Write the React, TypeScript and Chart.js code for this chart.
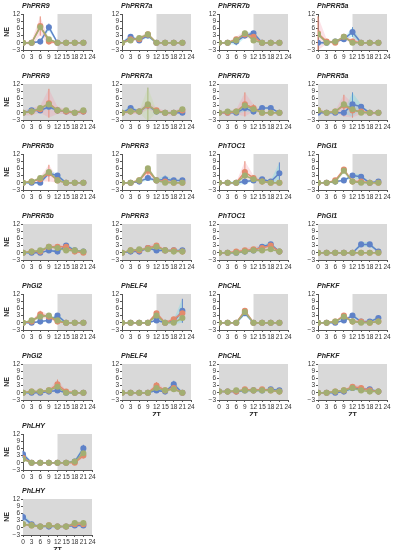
import React, { useEffect, useRef } from 'react';
import { Chart, registerables } from 'chart.js';
Chart.register(...registerables);

const HOURS = [0, 3, 6, 9, 12, 15, 18, 21];
const X_TICKS = [0, 3, 6, 9, 12, 15, 18, 21, 24];
const Y_TICKS = [-3, 0, 3, 6, 9, 12];

const TITLES = [
  'PhPRR9', 'PhPRR7a', 'PhPRR7b', 'PhPRR5a',
  'PhPRR9', 'PhPRR7a', 'PhPRR7b', 'PhPRR5a',
  'PhPRR5b', 'PhPRR3', 'PhTOC1', 'PhGI1',
  'PhPRR5b', 'PhPRR3', 'PhTOC1', 'PhGI1',
  'PhGI2', 'PhELF4', 'PhCHL', 'PhFKF',
  'PhGI2', 'PhELF4', 'PhCHL', 'PhFKF',
  'PhLHY', 'PhLHY',
];
// shading starts at ZT 12 (light/dark) or ZT 0 (constant)
const SHADE_FROM = [
  12, 12, 12, 12, 0, 0, 0, 0,
  12, 12, 12, 12, 0, 0, 0, 0,
  12, 12, 12, 12, 0, 0, 0, 0,
  12, 0,
];
const ZT_LABEL = [
  false, false, false, false, false, false, false, false,
  false, false, false, false, false, false, false, false,
  false, false, false, false, false, true, true, true,
  false, true,
];

const BLUE = [
  [0, 0, 0.5, 6.5, 0, 0, 0, 0],
  [0, 2.5, 1, 3, 0, 0, 0, 0],
  [0, 0, 0.5, 3, 4, 0, 0, 0],
  [0, 0, 0.5, 1.5, 4.5, 0, 0, 0],
  [0, 1, 1, 2.5, 1, 0.5, 0, 0.5],
  [0, 2, 0.5, 3, 0.5, 0, 0, 0],
  [0, 0, 0, 2, 0.5, 2, 2, 0],
  [0, 0, 0, 0, 3.5, 2.5, 0, 0],
  [0, 0, 0, 4, 3, 0, 0, 0],
  [0, 0, 0.5, 2, 1, 1.5, 1, 1],
  [0, 0, 0, 0.5, 1, 1.5, 0.5, 4],
  [0, 0, 0.5, 1, 3, 2.5, 0, 0.5],
  [0, 0, 0, 1, 0.5, 3, 1, 0.5],
  [0, 0.5, 0.5, 2, 1, 1, 1, 1],
  [0, 0, 0, 0.5, 1, 2.5, 3.5, 0.5],
  [0, 0, 0, 0, 0, 3.5, 3.5, 0.5],
  [0, 0, 0.5, 1, 3, 0, 0, 0],
  [0, 0, 0, 0, 1, 0, 0.5, 5],
  [0, 0, 0, 4, 0, 0, 0, 0],
  [0, 0, 0, 1, 3, 0.5, 0.5, 2],
  [0, 0, 0, 0.5, 1, 0, 0, 0],
  [0, 0, 0, 0, 1, 0.5, 3.5, 0],
  [0.5, 0.5, 0.5, 1, 1, 1, 1.5, 1],
  [0, 0, 0, 0.5, 2, 1.5, 1.5, 0.5],
  [3.5, 0, 0, 0, 0, 0, 0.5, 6],
  [4.5, 1.5, 0.5, 0.5, 0.5, 0.5, 1, 1],
];
const ORANGE = [
  [0, 0, 7, 0.5, 0, 0, 0, 0],
  [0, 1.5, 1.5, 3.5, 0, 0, 0, 0],
  [0, 0, 1.5, 3.5, 2.5, 0, 0, 0],
  [4, 0.5, 0, 2.5, 0.5, 0, 0, 0],
  [0, 0.5, 1.5, 4, 1, 0.5, 0, 0.5],
  [0, 0.5, 0.5, 3, 1, 0, 0, 1],
  [0, 0, 0.5, 3.5, 2, 0, 0, 0],
  [1, 0, 0.5, 3, 1, 0.5, 0, 0],
  [0, 0.5, 1.5, 4, 1, 0, 0, 0],
  [0, 0, 1, 5, 1, 0.5, 0, 0],
  [0, 0, 0, 4.5, 2, 0.5, 0, 0],
  [0, 0, 1, 5.5, 0.5, 0.5, 0, 0],
  [0, 0.5, 0.5, 2.5, 2.5, 2.5, 0.5, 0],
  [0, 1, 1, 2, 3, 1, 1, 0.5],
  [0, 0, 0.5, 1, 1.5, 2, 3, 0.5],
  [0, 0, 0, 0, 0, 0, 0, 0],
  [0, 0.5, 3.5, 2.5, 0.5, 0, 0, 0],
  [0, 0, 0, 0, 4, 0, 1.5, 4],
  [0, 0, 0, 5, 0, 0, 0, 0],
  [0, 0, 0.5, 3, 0.5, 0.5, 0, 0.5],
  [0, 0.5, 0.5, 1, 3.5, 0.5, 0, 0],
  [0, 0, 0, 0, 3, 1, 2, 0],
  [0.5, 0.5, 0.5, 1.5, 1, 1.5, 1, 0.5],
  [0, 0, 0.5, 1, 2.5, 2, 1, 0.5],
  [2, 0, 0, 0, 0, 0, 0, 3],
  [1.5, 1, 0.5, 1, 0.5, 0.5, 1.5, 1.5],
];
const GREEN = [
  [0, 0, 6.5, 1.5, 0, 0, 0, 0],
  [0, 1, 2, 3.5, 0, 0, 0, 0],
  [0, 0, 1, 4, 1, 0, 0, 0],
  [3.5, 0, 0.5, 2.5, 0, 0, 0, 0],
  [0, 0.5, 2, 3.5, 1, 1, 0, 1],
  [0, 0.5, 0.5, 3.5, 0.5, 0, 0, 1.5],
  [0, 0.5, 0.5, 3, 1.5, 0, 0, 0],
  [1, 0, 0.5, 3.5, 1.5, 0, 0, 0],
  [0, 0.5, 2, 4.5, 1, 0, 0, 0],
  [0, 0, 1, 6, 1, 0, 0, 0],
  [0, 0, 0, 3, 1.5, 0.5, 0, 0],
  [0, 0, 0.5, 5, 0.5, 0, 0, 0],
  [0, 0.5, 1, 2.5, 2, 1, 1, 0.5],
  [0, 1, 1.5, 1.5, 2.5, 1, 0.5, 0.5],
  [0, 0, 0, 0.5, 1, 1, 1.5, 0.5],
  [0, 0, 0, 0, 0, 0, 0, 0],
  [0, 1, 2.5, 3, 1, 0, 0, 0],
  [0, 0, 0, 0, 3, 0, 0, 2],
  [0, 0, 0, 4.5, 0, 0, 0, 0],
  [0, 0, 0.5, 2.5, 0.5, 0, 0, 0.5],
  [0, 0.5, 0.5, 1, 2.5, 0, 0, 0],
  [0, 0, 0, 0, 2, 1, 1.5, 0],
  [0.5, 0.5, 1, 1, 1, 1, 1, 0.5],
  [0, 0, 0.5, 1, 2, 1, 0.5, 0.5],
  [1.5, 0, 0, 0, 0, 0, 0.5, 4],
  [1.5, 1, 0.5, 1, 0.5, 0.5, 2, 2],
];
// standard deviations (error bars / bands)
const ERR_BLUE = [
  [0.3, 0.3, 0.5, 1.5, 0.3, 0, 0, 0],
  [0.5, 1, 0.5, 1, 0.3, 0, 0, 0],
  [0.3, 0.3, 1.5, 1, 1, 0.3, 0, 0],
  [1, 0.3, 0.3, 0.5, 2, 0.3, 0, 0],
  [0.5, 1, 0.5, 1, 0.5, 0.5, 0.5, 0.5],
  [0.5, 1, 0.5, 1, 0.5, 0.5, 0.5, 0.5],
  [0.3, 0.3, 0.5, 1.5, 0.5, 0.5, 0.5, 0.3],
  [0.3, 0.3, 0.3, 0.5, 5, 1, 0.3, 0.3],
  [0.3, 0.3, 0.5, 1, 1, 0.3, 0.3, 0.3],
  [0.3, 0.3, 0.5, 1, 0.5, 1.5, 0.5, 0.5],
  [0.3, 0.3, 1, 1, 0.5, 0.5, 0.5, 4.5],
  [0.3, 0.3, 0.5, 0.5, 1, 1, 0.3, 0.3],
  [0.3, 0.3, 0.3, 0.5, 0.5, 1, 0.5, 0.3],
  [0.3, 0.3, 0.3, 0.5, 0.5, 0.5, 0.5, 0.5],
  [0.3, 0.3, 0.3, 0.5, 0.5, 1, 1, 0.5],
  [0.3, 0.3, 0.3, 0.3, 0.3, 1, 1, 0.3],
  [0.3, 0.3, 0.5, 0.5, 1, 0.3, 0.3, 0.3],
  [0.3, 0.3, 0.3, 0.3, 0.5, 0.3, 1, 5],
  [0.3, 0.3, 0.3, 1, 0.3, 0.3, 0.3, 0.3],
  [0.3, 0.3, 0.3, 0.5, 1, 0.3, 0.3, 1],
  [0.3, 0.3, 0.3, 0.3, 0.5, 0.3, 0.3, 0.3],
  [0.3, 0.3, 0.3, 0.3, 0.5, 0.3, 1.5, 0.3],
  [0.5, 0.5, 0.5, 0.5, 0.5, 0.5, 0.5, 0.5],
  [0.3, 0.3, 0.3, 0.3, 1, 0.5, 0.5, 0.3],
  [1.5, 0.3, 0.3, 0.3, 0.3, 0.3, 0.5, 1.5],
  [1.5, 0.5, 0.3, 0.3, 0.3, 0.3, 0.5, 0.5],
];
const ERR_ORANGE = [
  [0.3, 1, 4, 1, 0.3, 0, 0, 0],
  [0.5, 0.5, 1, 1, 0.3, 0, 0, 0],
  [0.3, 0.3, 1, 1.5, 1, 0.3, 0, 0],
  [7, 1, 0.5, 1, 1, 0.3, 0, 0],
  [1, 1.5, 1.5, 6, 1.5, 1, 1, 1],
  [0.5, 1, 1, 1.5, 1, 1, 1, 1],
  [0.3, 0.5, 1, 5, 1.5, 0.5, 0.3, 0.3],
  [1, 0.5, 0.5, 4.5, 3, 1, 1, 0.5],
  [0.3, 0.5, 1, 3.5, 1, 0.3, 0.3, 0.3],
  [0.3, 0.3, 1, 2, 0.5, 0.3, 0.3, 0.3],
  [0.3, 0.3, 0.3, 4.5, 1, 0.5, 0.3, 0.3],
  [0.3, 0.3, 0.5, 1, 0.5, 0.5, 0.3, 0.3],
  [0.3, 0.5, 0.5, 1, 1, 1, 0.5, 0.3],
  [0.3, 0.5, 0.5, 1, 1, 0.5, 0.5, 0.3],
  [0.3, 0.3, 0.5, 1, 1, 1, 1, 0.3],
  [0.3, 0.3, 0.3, 0.3, 0.3, 0.3, 0.3, 0.3],
  [0.3, 0.5, 1.5, 1, 0.5, 0.3, 0.3, 0.3],
  [0.3, 0.3, 0.3, 0.3, 1, 0.3, 1, 1],
  [0.3, 0.3, 0.3, 1, 0.3, 0.3, 0.3, 0.3],
  [0.3, 0.3, 0.3, 1, 0.5, 0.3, 0.3, 0.5],
  [0.3, 0.5, 0.5, 0.5, 2, 0.5, 0.3, 0.3],
  [0.3, 0.3, 0.3, 0.3, 1.5, 0.5, 1, 0.3],
  [0.5, 0.5, 0.5, 0.5, 0.5, 0.5, 0.5, 0.5],
  [0.3, 0.3, 0.3, 0.5, 1, 1, 0.5, 0.3],
  [1, 0.3, 0.3, 0.3, 0.3, 0.3, 0.3, 1],
  [0.5, 0.5, 0.3, 0.3, 0.3, 0.3, 1, 1],
];
const ERR_GREEN = [
  [0.3, 0.3, 1, 0.5, 0.3, 0, 0, 0],
  [0.3, 0.5, 0.5, 0.5, 0.3, 0, 0, 0],
  [0.3, 0.3, 0.5, 0.5, 0.5, 0.3, 0, 0],
  [1, 0.3, 0.3, 0.5, 0.3, 0.3, 0, 0],
  [0.3, 0.5, 0.5, 1, 0.5, 0.5, 0.3, 0.5],
  [0.3, 0.5, 0.5, 7, 0.5, 0.5, 0.3, 0.5],
  [0.3, 0.3, 0.5, 1, 0.5, 0.3, 0.3, 0.3],
  [0.3, 0.3, 0.3, 1, 0.5, 0.3, 0.3, 0.3],
  [0.3, 0.3, 0.5, 1, 0.5, 0.3, 0.3, 0.3],
  [0.3, 0.3, 0.5, 1, 0.5, 0.3, 0.3, 0.3],
  [0.3, 0.3, 0.3, 1, 0.5, 0.3, 0.3, 0.3],
  [0.3, 0.3, 0.3, 1, 0.3, 0.3, 0.3, 0.3],
  [0.3, 0.3, 0.5, 0.5, 0.5, 0.5, 0.5, 0.3],
  [0.3, 0.3, 0.5, 0.5, 0.5, 0.5, 0.3, 0.3],
  [0.3, 0.3, 0.3, 0.3, 0.5, 0.5, 0.5, 0.3],
  [0.3, 0.3, 0.3, 0.3, 0.3, 0.3, 0.3, 0.3],
  [0.3, 0.5, 1, 0.5, 0.5, 0.3, 0.3, 0.3],
  [0.3, 0.3, 0.3, 0.3, 0.5, 0.3, 0.3, 1],
  [0.3, 0.3, 0.3, 0.5, 0.3, 0.3, 0.3, 0.3],
  [0.3, 0.3, 0.3, 0.5, 0.3, 0.3, 0.3, 0.3],
  [0.3, 0.3, 0.3, 0.3, 0.5, 0.3, 0.3, 0.3],
  [0.3, 0.3, 0.3, 0.3, 0.5, 0.3, 0.5, 0.3],
  [0.3, 0.3, 0.3, 0.3, 0.3, 0.3, 0.3, 0.3],
  [0.3, 0.3, 0.3, 0.3, 0.5, 0.5, 0.3, 0.3],
  [0.5, 0.3, 0.3, 0.3, 0.3, 0.3, 0.3, 1],
  [0.5, 0.3, 0.3, 0.3, 0.3, 0.3, 0.5, 0.5],
];

const COL_LEFT = [0, 99, 196, 295];
const ROW_TOP = [0, 70, 140, 210, 280, 350, 420, 485];
const CANVAS_W = 99;
const CANVAS_H = 66;
const Y_AXIS_W = 23;

const C_BLUE = '#5f82c8';
const C_ORANGE = '#e38a6c';
const C_GREEN = '#a3ae72';
const BAND_BLUE = 'rgba(90,220,235,0.28)';
const BAND_ORANGE = 'rgba(245,150,170,0.28)';
const BAND_GREEN = 'rgba(190,220,150,0.28)';

const FONT = "'Liberation Sans', Arial, sans-serif";

const panelPlugin = {
  id: 'panelDeco',
  beforeDatasetsDraw(chart: any, _args: any, opts: any) {
    const { ctx, chartArea, scales } = chart;
    const x = scales.x;
    const y = scales.y;
    const x0 = x.getPixelForValue(opts.shadeFrom);
    const x1 = x.getPixelForValue(24);
    ctx.save();
    ctx.fillStyle = '#d9d9d9';
    ctx.fillRect(x0, chartArea.top, x1 - x0, chartArea.bottom - chartArea.top);
    const groups = opts.errors as { vals: number[]; errs: number[]; color: string }[];
    ctx.lineWidth = 1;
    groups.forEach((g) => {
      ctx.strokeStyle = g.color;
      g.vals.forEach((v, i) => {
        const e = g.errs[i];
        if (e < 1.5) return;
        const px = x.getPixelForValue(HOURS[i]);
        ctx.beginPath();
        ctx.moveTo(px, y.getPixelForValue(Math.max(-3, v - e)));
        ctx.lineTo(px, y.getPixelForValue(Math.min(12, v + e)));
        ctx.stroke();
      });
    });
    ctx.restore();
  },
  afterDraw(chart: any, _args: any, opts: any) {
    const { ctx, chartArea } = chart;
    ctx.save();
    ctx.fillStyle = '#222';
    ctx.font = `italic bold 7px ${FONT}`;
    ctx.textAlign = 'left';
    ctx.textBaseline = 'middle';
    ctx.fillText(opts.title, chartArea.left - 1, chartArea.top - 8);
    if (opts.showNE) {
      ctx.font = `bold 7px ${FONT}`;
      ctx.translate(7, (chartArea.top + chartArea.bottom) / 2);
      ctx.rotate(-Math.PI / 2);
      ctx.textAlign = 'center';
      ctx.fillText('NE', 0, 0);
      ctx.setTransform(1, 0, 0, 1, 0, 0);
    }
    if (opts.showZT) {
      ctx.font = `bold 7px ${FONT}`;
      ctx.textAlign = 'center';
      ctx.fillText('ZT', (chartArea.left + chartArea.right) / 2, chartArea.bottom + 15);
    }
    ctx.restore();
  },
};

function makePoints(vals: number[], delta: number[] | null, sign: number) {
  return vals.map((v, i) => ({ x: HOURS[i], y: delta ? v + sign * delta[i] : v }));
}

function Panel({ idx }: { idx: number }) {
  const ref = useRef<HTMLCanvasElement | null>(null);
  const row = idx < 24 ? Math.floor(idx / 4) : idx - 18;
  const col = idx < 24 ? idx % 4 : 0;
  useEffect(() => {
    if (!ref.current) return;
    const series = [
      { vals: BLUE[idx], errs: ERR_BLUE[idx], color: C_BLUE, band: BAND_BLUE, order: 3 },
      { vals: ORANGE[idx], errs: ERR_ORANGE[idx], color: C_ORANGE, band: BAND_ORANGE, order: 2 },
      { vals: GREEN[idx], errs: ERR_GREEN[idx], color: C_GREEN, band: BAND_GREEN, order: 1 },
    ];
    const datasets: any[] = [];
    series.forEach((s) => {
      datasets.push({
        data: makePoints(s.vals, s.errs, 1),
        borderWidth: 0,
        pointRadius: 0,
        backgroundColor: s.band,
        fill: '+1',
        order: 10,
      });
      datasets.push({
        data: makePoints(s.vals, s.errs, -1),
        borderWidth: 0,
        pointRadius: 0,
        backgroundColor: s.band,
        fill: false,
        order: 10,
      });
    });
    series.forEach((s) => {
      datasets.push({
        data: makePoints(s.vals, null, 0),
        borderColor: s.color,
        backgroundColor: s.color,
        pointBackgroundColor: s.color,
        pointBorderColor: s.color,
        pointRadius: 2.3,
        borderWidth: 1.5,
        fill: false,
        order: s.order,
      });
    });
    const tickFont = { size: 6.5, family: FONT };
    const chart = new Chart(ref.current, {
      type: 'line',
      data: { datasets },
      plugins: [panelPlugin],
      options: {
        animation: false,
        responsive: false,
        events: [],
        layout: { padding: { top: 14, right: 7, bottom: 4, left: 0 } },
        plugins: {
          legend: { display: false },
          tooltip: { enabled: false },
          panelDeco: {
            shadeFrom: SHADE_FROM[idx],
            title: TITLES[idx],
            showNE: col === 0,
            showZT: ZT_LABEL[idx],
            errors: series.map((s) => ({ vals: s.vals, errs: s.errs, color: s.color })),
          },
        } as any,
        scales: {
          x: {
            type: 'linear',
            min: 0,
            max: 24,
            afterBuildTicks: (sc: any) => {
              sc.ticks = X_TICKS.map((v) => ({ value: v }));
            },
            afterFit: (sc: any) => {
              sc.height = 12;
            },
            ticks: {
              autoSkip: false,
              maxRotation: 0,
              minRotation: 0,
              padding: 1,
              color: '#333',
              font: tickFont,
            },
            grid: { display: true, drawOnChartArea: false, drawTicks: true, tickLength: 2, color: '#555' },
            border: { display: true, color: '#555', width: 1 },
          },
          y: {
            type: 'linear',
            min: -3,
            max: 12,
            afterBuildTicks: (sc: any) => {
              sc.ticks = Y_TICKS.map((v) => ({ value: v }));
            },
            afterFit: (sc: any) => {
              sc.width = Y_AXIS_W;
            },
            ticks: {
              autoSkip: false,
              padding: 1,
              color: '#333',
              font: tickFont,
              callback: (v: any) => (Number(v) < 0 ? '\u2212' + Math.abs(Number(v)) : String(v)),
            },
            grid: { display: true, drawOnChartArea: false, drawTicks: true, tickLength: 2, color: '#555' },
            border: { display: true, color: '#555', width: 1 },
          },
        },
      } as any,
    });
    return () => chart.destroy();
  }, [idx, col]);
  return (
    <canvas
      ref={ref}
      width={CANVAS_W}
      height={CANVAS_H}
      style={{
        position: 'absolute',
        left: COL_LEFT[col],
        top: ROW_TOP[row],
        width: CANVAS_W,
        height: CANVAS_H,
      }}
    />
  );
}

export default function App() {
  useEffect(() => {
    document.body.style.margin = '0';
    document.body.style.background = '#fff';
  }, []);
  return (
    <div style={{ position: 'relative', width: 396, height: 550, background: '#fff', overflow: 'hidden' }}>
      {TITLES.map((_, i) => (
        <Panel key={i} idx={i} />
      ))}
    </div>
  );
}
